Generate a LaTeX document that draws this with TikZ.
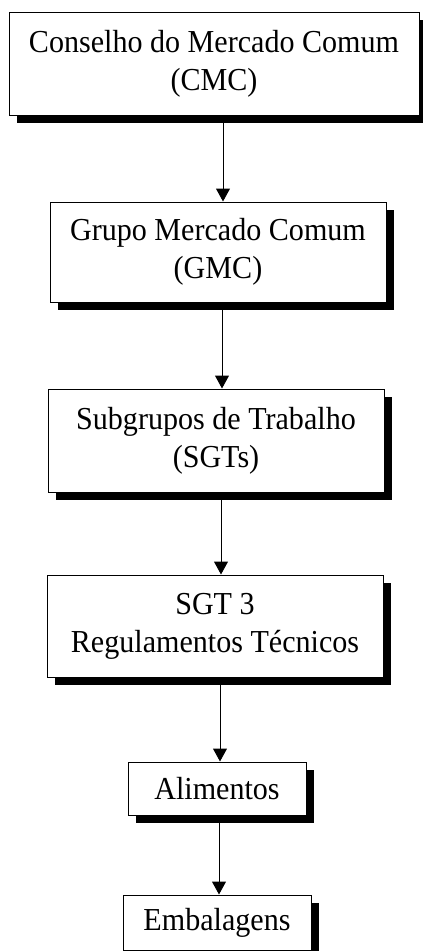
\documentclass[tikz,border=0pt]{standalone}
\usepackage{fontspec}
\setmainfont{Liberation Serif}[FakeStretch=0.94]
\usetikzlibrary{shadows,arrows.meta}
\tikzset{
  box/.style={draw=black, line width=1pt, fill=white, inner sep=0pt, align=center,
    font=\fontsize{32}{38}\selectfont,
    drop shadow={shadow xshift=8pt, shadow yshift=-8pt, fill=black, opacity=1}},
  arr/.style={draw=black, line width=1pt, -{Triangle[length=13pt,width=14pt]}}
}
\begin{document}
\begin{tikzpicture}[x=1pt,y=-1pt]
\useasboundingbox (0,0) rectangle (423,951);
\node[box, minimum width=410pt, minimum height=103pt] (b1) at (214,63.5) {Conselho do Mercado Comum\\(CMC)};
\node[box, minimum width=336pt, minimum height=100pt] (b2) at (218,252) {Grupo Mercado Comum\\(GMC)};
\node[box, minimum width=336pt, minimum height=103pt] (b3) at (216,440.5) {Subgrupos de Trabalho\\(SGTs)};
\node[box, minimum width=336pt, minimum height=102pt] (b4) at (215,626) {SGT 3\\Regulamentos Técnicos};
\node[box, minimum width=178pt, minimum height=53pt] (b5) at (217,788.5) {Alimentos};
\node[box, minimum width=188pt, minimum height=55pt] (b6) at (217,922.5) {Embalagens};
\draw[arr] ([xshift=9pt]b1.south) -- ([xshift=5pt]b2.north);
\draw[arr] ([xshift=4pt]b2.south) -- ([xshift=6pt]b3.north);
\draw[arr] ([xshift=5pt]b3.south) -- ([xshift=6pt]b4.north);
\draw[arr] ([xshift=5pt]b4.south) -- ([xshift=3pt]b5.north);
\draw[arr] ([xshift=2pt]b5.south) -- ([xshift=2pt]b6.north);
\end{tikzpicture}
\end{document}
